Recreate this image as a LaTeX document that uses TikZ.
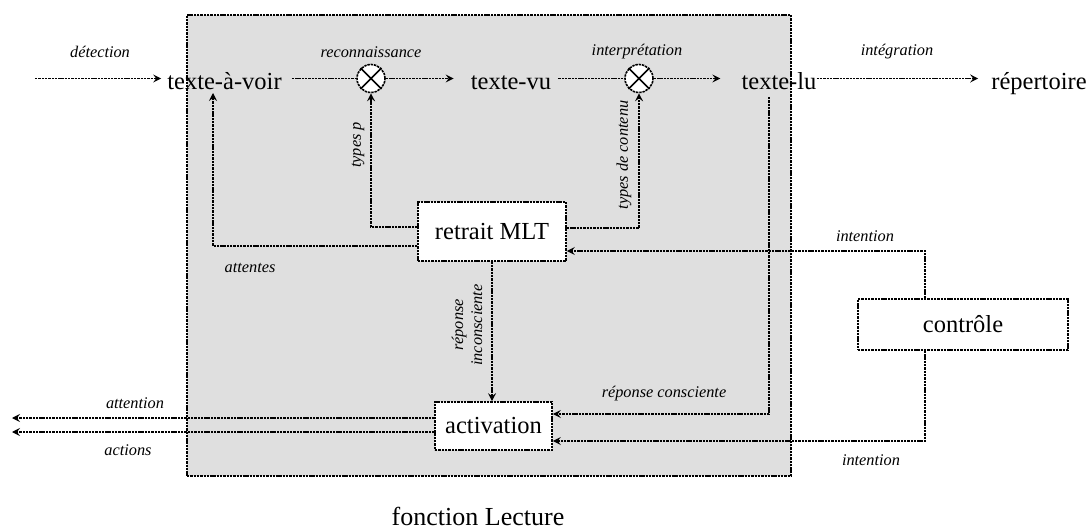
\documentclass[tikz,border=0pt]{standalone}
\usepackage{fontspec}
\setmainfont{Liberation Serif}
\usetikzlibrary{arrows.meta}
\definecolor{panelgray}{HTML}{DFDFDF}
\begin{document}
\begin{tikzpicture}[x=1pt,y=-1pt,
  dl/.style={line width=1.6pt, dash pattern=on 2.4pt off 0.9pt},
  arr/.style={dl,-{Stealth[length=8pt,width=8pt,inset=3pt]}},
  big/.style={font=\fontsize{24.5}{28}\selectfont, inner sep=0pt},
  lab/.style={font=\fontsize{16.3}{19}\selectfont\itshape, inner sep=0pt},
  box/.style={dl, draw, fill=white, font=\fontsize{24.5}{28}\selectfont, inner sep=0pt},
  junction/.style={dl, draw, fill=white, circle, minimum size=28pt, inner sep=0pt},
  xmark/.style={line width=1.5pt}]

\useasboundingbox (0,0) rectangle (1087,529);

% panel
\node[dl, draw, fill=panelgray, minimum width=604pt, minimum height=461pt, inner sep=0pt] (panel) at (489,245.5) {};

% main text nodes
\node[big, anchor=base] (tav) at (224.5,90) {texte-à-voir};
\node[big, anchor=base] (tvu) at (511,90) {texte-vu};
\node[big, anchor=base] (tlu) at (779,90) {texte-lu};
\node[big, anchor=base] (rep) at (1039,90) {répertoire};

% junctions
\node[junction] (c1) at (371,78.5) {};
\node[junction] (c2) at (639,78.5) {};
\draw[xmark] (c1.north west) -- (c1.south east) (c1.north east) -- (c1.south west);
\draw[xmark] (c2.north west) -- (c2.south east) (c2.north east) -- (c2.south west);

% boxes
\node[box, minimum width=148pt, minimum height=59pt] (ret) at (492,231.5) {retrait MLT};
\node[box, minimum width=117pt, minimum height=48pt] (act) at (493.5,426) {activation};
\node[box, minimum width=210pt, minimum height=51pt] (ctl) at (963,324.5) {contrôle};

% free ends
\coordinate (d0) at (35,78.5);
\coordinate (tavfoot) at (213,93);
\coordinate (tl0) at (769,97);
\coordinate (att) at (12,418);
\coordinate (acts) at (12,432);

% main row
\draw[arr, shorten >=6pt] (d0) -- (d0 -| tav.west);
\draw[dl, shorten <=10pt] (tav.east |- c1) -- (c1);
\draw[arr, shorten >=17pt] (c1) -- (tvu.west |- c1);
\draw[dl, shorten <=7pt] (tvu.east |- c2) -- (c2);
\draw[arr, shorten >=21pt] (c2) -- (tlu.west |- c2);
\draw[arr, shorten >=13pt] (tlu.east |- c2) -- (rep.west |- c2);

% from retrait MLT
\draw[arr] (ret.west |- 0,246) -| (tavfoot);
\draw[arr] (ret.west |- 0,227) -| (c1.south);
\draw[arr] (ret.east |- 0,228) -| (c2.south);
\draw[arr] (ret.south) -- (ret.south |- act.north);

% texte-lu to activation
\draw[arr] (tl0) |- (act.east |- 0,414);

% contrôle
\draw[arr] (ctl.north -| 925,0) |- (ret.east |- 0,251);
\draw[arr] (ctl.south -| 925,0) |- (act.east |- 0,441);

% outputs
\draw[arr] (act.west |- att) -- (att);
\draw[arr] (act.west |- acts) -- (acts);

% labels
\node[lab] (l1) at (100,52) {détection};
\node[lab] (l2) at (371,52) {reconnaissance};
\node[lab] (l3) at (637,52) {interprétation};
\node[lab] (l4) at (897,52) {intégration};
\node[lab, rotate=90] (l5) at (358,145) {types p};
\node[lab, rotate=90] (l6) at (624,155) {types de contenu};
\node[lab] (l7) at (250,268) {attentes};
\node[lab] (l8) at (865,236) {intention};
\node[lab, rotate=90, align=center] (l9) at (467,325) {réponse\\inconsciente};
\node[lab] (l10) at (664,394) {réponse consciente};
\node[lab] (l11) at (135,403) {attention};
\node[lab] (l12) at (128,450) {actions};
\node[lab] (l13) at (871,460) {intention};
\node[font=\fontsize{26}{30}\selectfont, inner sep=0pt] (title) at (478,516) {fonction Lecture};
\end{tikzpicture}
\end{document}
